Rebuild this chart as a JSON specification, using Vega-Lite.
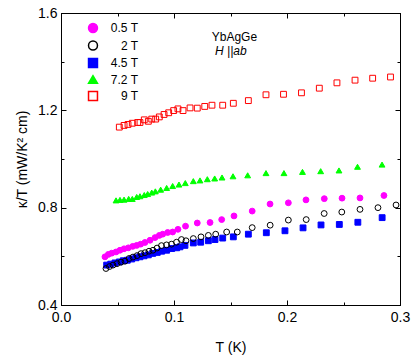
{
  "$schema": "https://vega.github.io/schema/vega-lite/v6.json",
  "width": 339,
  "height": 292,
  "autosize": "none",
  "padding": {"left": 61, "top": 13, "right": 15, "bottom": 50},
  "config": {
    "font": "Liberation Sans",
    "view": {"stroke": "black", "strokeWidth": 1},
    "axis": {
      "domainColor": "black", "tickColor": "black", "labelColor": "black", "titleColor": "black",
      "grid": false, "labelFontSize": 14, "titleFontSize": 14, "titleFontWeight": "normal",
      "labelFont": "Liberation Sans", "titleFont": "Liberation Sans"
    }
  },
  "datasets": {
    "pts": [
      {"T":0.0389,"k":0.598,"B":"0.5 T"},{"T":0.0419,"k":0.608,"B":"0.5 T"},{"T":0.0449,"k":0.613,"B":"0.5 T"},{"T":0.0487,"k":0.618,"B":"0.5 T"},{"T":0.0522,"k":0.625,"B":"0.5 T"},{"T":0.0558,"k":0.631,"B":"0.5 T"},{"T":0.0596,"k":0.635,"B":"0.5 T"},{"T":0.0635,"k":0.641,"B":"0.5 T"},{"T":0.0670,"k":0.645,"B":"0.5 T"},{"T":0.0705,"k":0.650,"B":"0.5 T"},{"T":0.0743,"k":0.657,"B":"0.5 T"},{"T":0.0788,"k":0.666,"B":"0.5 T"},{"T":0.0832,"k":0.677,"B":"0.5 T"},{"T":0.0870,"k":0.686,"B":"0.5 T"},{"T":0.0900,"k":0.691,"B":"0.5 T"},{"T":0.0944,"k":0.698,"B":"0.5 T"},{"T":0.0988,"k":0.700,"B":"0.5 T"},{"T":0.1035,"k":0.711,"B":"0.5 T"},{"T":0.1102,"k":0.724,"B":"0.5 T"},{"T":0.1206,"k":0.737,"B":"0.5 T"},{"T":0.1319,"k":0.739,"B":"0.5 T"},{"T":0.1422,"k":0.751,"B":"0.5 T"},{"T":0.1531,"k":0.766,"B":"0.5 T"},{"T":0.1692,"k":0.786,"B":"0.5 T"},{"T":0.1850,"k":0.815,"B":"0.5 T"},{"T":0.2012,"k":0.820,"B":"0.5 T"},{"T":0.2168,"k":0.832,"B":"0.5 T"},{"T":0.2330,"k":0.837,"B":"0.5 T"},{"T":0.2487,"k":0.839,"B":"0.5 T"},{"T":0.2646,"k":0.840,"B":"0.5 T"},{"T":0.2858,"k":0.850,"B":"0.5 T"},
      {"T":0.0404,"k":0.564,"B":"4.5 T"},{"T":0.0440,"k":0.568,"B":"4.5 T"},{"T":0.0478,"k":0.573,"B":"4.5 T"},{"T":0.0516,"k":0.577,"B":"4.5 T"},{"T":0.0551,"k":0.582,"B":"4.5 T"},{"T":0.0587,"k":0.584,"B":"4.5 T"},{"T":0.0626,"k":0.589,"B":"4.5 T"},{"T":0.0664,"k":0.594,"B":"4.5 T"},{"T":0.0699,"k":0.598,"B":"4.5 T"},{"T":0.0735,"k":0.602,"B":"4.5 T"},{"T":0.0773,"k":0.606,"B":"4.5 T"},{"T":0.0812,"k":0.612,"B":"4.5 T"},{"T":0.0852,"k":0.616,"B":"4.5 T"},{"T":0.0891,"k":0.621,"B":"4.5 T"},{"T":0.0935,"k":0.625,"B":"4.5 T"},{"T":0.0980,"k":0.632,"B":"4.5 T"},{"T":0.1024,"k":0.635,"B":"4.5 T"},{"T":0.1053,"k":0.639,"B":"4.5 T"},{"T":0.1097,"k":0.645,"B":"4.5 T"},{"T":0.1171,"k":0.655,"B":"4.5 T"},{"T":0.1236,"k":0.658,"B":"4.5 T"},{"T":0.1304,"k":0.664,"B":"4.5 T"},{"T":0.1363,"k":0.669,"B":"4.5 T"},{"T":0.1431,"k":0.675,"B":"4.5 T"},{"T":0.1525,"k":0.680,"B":"4.5 T"},{"T":0.1658,"k":0.691,"B":"4.5 T"},{"T":0.1817,"k":0.697,"B":"4.5 T"},{"T":0.1982,"k":0.705,"B":"4.5 T"},{"T":0.2142,"k":0.717,"B":"4.5 T"},{"T":0.2301,"k":0.729,"B":"4.5 T"},{"T":0.2463,"k":0.731,"B":"4.5 T"},{"T":0.2627,"k":0.740,"B":"4.5 T"},{"T":0.2842,"k":0.759,"B":"4.5 T"},
      {"T":0.0398,"k":0.550,"B":"2 T"},{"T":0.0429,"k":0.558,"B":"2 T"},{"T":0.0460,"k":0.564,"B":"2 T"},{"T":0.0496,"k":0.570,"B":"2 T"},{"T":0.0531,"k":0.576,"B":"2 T"},{"T":0.0566,"k":0.580,"B":"2 T"},{"T":0.0602,"k":0.591,"B":"2 T"},{"T":0.0637,"k":0.597,"B":"2 T"},{"T":0.0673,"k":0.603,"B":"2 T"},{"T":0.0708,"k":0.611,"B":"2 T"},{"T":0.0743,"k":0.615,"B":"2 T"},{"T":0.0779,"k":0.621,"B":"2 T"},{"T":0.0814,"k":0.625,"B":"2 T"},{"T":0.0850,"k":0.634,"B":"2 T"},{"T":0.0889,"k":0.644,"B":"2 T"},{"T":0.0934,"k":0.647,"B":"2 T"},{"T":0.0978,"k":0.650,"B":"2 T"},{"T":0.1022,"k":0.658,"B":"2 T"},{"T":0.1066,"k":0.669,"B":"2 T"},{"T":0.1106,"k":0.664,"B":"2 T"},{"T":0.1171,"k":0.673,"B":"2 T"},{"T":0.1239,"k":0.680,"B":"2 T"},{"T":0.1304,"k":0.686,"B":"2 T"},{"T":0.1369,"k":0.691,"B":"2 T"},{"T":0.1466,"k":0.700,"B":"2 T"},{"T":0.1560,"k":0.700,"B":"2 T"},{"T":0.1692,"k":0.718,"B":"2 T"},{"T":0.1851,"k":0.728,"B":"2 T"},{"T":0.2012,"k":0.749,"B":"2 T"},{"T":0.2170,"k":0.751,"B":"2 T"},{"T":0.2329,"k":0.776,"B":"2 T"},{"T":0.2485,"k":0.782,"B":"2 T"},{"T":0.2646,"k":0.793,"B":"2 T"},{"T":0.2805,"k":0.800,"B":"2 T"},{"T":0.2965,"k":0.811,"B":"2 T"},
      {"T":0.0487,"k":0.830,"B":"7.2 T"},{"T":0.0522,"k":0.832,"B":"7.2 T"},{"T":0.0558,"k":0.833,"B":"7.2 T"},{"T":0.0599,"k":0.836,"B":"7.2 T"},{"T":0.0631,"k":0.836,"B":"7.2 T"},{"T":0.0670,"k":0.844,"B":"7.2 T"},{"T":0.0699,"k":0.847,"B":"7.2 T"},{"T":0.0737,"k":0.852,"B":"7.2 T"},{"T":0.0767,"k":0.856,"B":"7.2 T"},{"T":0.0803,"k":0.862,"B":"7.2 T"},{"T":0.0835,"k":0.867,"B":"7.2 T"},{"T":0.0882,"k":0.874,"B":"7.2 T"},{"T":0.0935,"k":0.881,"B":"7.2 T"},{"T":0.0988,"k":0.889,"B":"7.2 T"},{"T":0.1044,"k":0.895,"B":"7.2 T"},{"T":0.1100,"k":0.901,"B":"7.2 T"},{"T":0.1171,"k":0.909,"B":"7.2 T"},{"T":0.1230,"k":0.912,"B":"7.2 T"},{"T":0.1295,"k":0.917,"B":"7.2 T"},{"T":0.1360,"k":0.920,"B":"7.2 T"},{"T":0.1425,"k":0.924,"B":"7.2 T"},{"T":0.1522,"k":0.929,"B":"7.2 T"},{"T":0.1652,"k":0.933,"B":"7.2 T"},{"T":0.1814,"k":0.942,"B":"7.2 T"},{"T":0.1973,"k":0.942,"B":"7.2 T"},{"T":0.2137,"k":0.947,"B":"7.2 T"},{"T":0.2298,"k":0.950,"B":"7.2 T"},{"T":0.2460,"k":0.953,"B":"7.2 T"},{"T":0.2624,"k":0.968,"B":"7.2 T"},{"T":0.2841,"k":0.977,"B":"7.2 T"},
      {"T":0.0516,"k":1.131,"B":"9 T"},{"T":0.0558,"k":1.138,"B":"9 T"},{"T":0.0593,"k":1.142,"B":"9 T"},{"T":0.0631,"k":1.147,"B":"9 T"},{"T":0.0679,"k":1.150,"B":"9 T"},{"T":0.0699,"k":1.150,"B":"9 T"},{"T":0.0737,"k":1.161,"B":"9 T"},{"T":0.0773,"k":1.155,"B":"9 T"},{"T":0.0803,"k":1.164,"B":"9 T"},{"T":0.0838,"k":1.164,"B":"9 T"},{"T":0.0870,"k":1.173,"B":"9 T"},{"T":0.0912,"k":1.183,"B":"9 T"},{"T":0.0953,"k":1.190,"B":"9 T"},{"T":0.0997,"k":1.199,"B":"9 T"},{"T":0.1035,"k":1.206,"B":"9 T"},{"T":0.1080,"k":1.199,"B":"9 T"},{"T":0.1142,"k":1.210,"B":"9 T"},{"T":0.1206,"k":1.209,"B":"9 T"},{"T":0.1272,"k":1.216,"B":"9 T"},{"T":0.1336,"k":1.221,"B":"9 T"},{"T":0.1431,"k":1.221,"B":"9 T"},{"T":0.1525,"k":1.229,"B":"9 T"},{"T":0.1658,"k":1.240,"B":"9 T"},{"T":0.1814,"k":1.264,"B":"9 T"},{"T":0.1969,"k":1.266,"B":"9 T"},{"T":0.2128,"k":1.272,"B":"9 T"},{"T":0.2286,"k":1.291,"B":"9 T"},{"T":0.2442,"k":1.313,"B":"9 T"},{"T":0.2602,"k":1.324,"B":"9 T"},{"T":0.2758,"k":1.332,"B":"9 T"},{"T":0.2916,"k":1.337,"B":"9 T"}
    ]
  },
  "layer": [
    {
      "data": {"name": "pts"},
      "mark": {"type": "point", "opacity": 1, "size": 34, "strokeWidth": 1},
      "encoding": {
        "x": {"field": "T", "type": "quantitative", "scale": {"domain": [0, 0.3], "nice": false, "zero": false},
          "axis": {"orient": "bottom", "title": "T (K)", "values": [0,0.05,0.1,0.15,0.2,0.25,0.3],
            "labelExpr": "abs(datum.value*10-round(datum.value*10))<0.001 ? format(datum.value,'.1f') : ''",
            "tickSize": {"condition": {"test": "abs(datum.value*10-round(datum.value*10))<0.001", "value": -5}, "value": -3},
            "labelPadding": 10, "titlePadding": 16, "labelFlush": false}},
        "y": {"field": "k", "type": "quantitative", "scale": {"domain": [0.4, 1.6], "nice": false, "zero": false},
          "axis": {"orient": "left", "title": "κ/T (mW/K² cm)", "values": [0.4,0.6,0.8,1.0,1.2,1.4,1.6],
            "labelExpr": "abs(datum.value/0.4-round(datum.value/0.4))<0.001 ? format(datum.value,'.1f') : ''",
            "tickSize": {"condition": {"test": "abs(datum.value/0.4-round(datum.value/0.4))<0.001", "value": -5}, "value": -3},
            "labelPadding": 9, "titlePadding": 8, "labelFlush": false}},
        "color": {"field": "B", "type": "nominal",
          "scale": {"domain": ["0.5 T","2 T","4.5 T","7.2 T","9 T"], "range": ["#ff00ff","#000000","#0000ff","#00ff00","#ff0000"]},
          "legend": {"orient": "none", "legendX": 26, "legendY": 9, "title": null, "symbolSize": 80, "labelFontSize": 12,
            "labelAlign": "right", "labelOffset": 39, "rowPadding": 1.5, "padding": 0, "symbolStrokeWidth": 1.5, "labelColor": "black"}},
        "fill": {"field": "B", "type": "nominal",
          "scale": {"domain": ["0.5 T","2 T","4.5 T","7.2 T","9 T"], "range": ["#ff00ff","transparent","#0000ff","#00ff00","transparent"]},
          "legend": {"orient": "none", "legendX": 26, "legendY": 9, "title": null, "symbolSize": 80, "labelFontSize": 12,
            "labelAlign": "right", "labelOffset": 39, "rowPadding": 1.5, "padding": 0, "symbolStrokeWidth": 1.5, "labelColor": "black"}},
        "shape": {"field": "B", "type": "nominal",
          "scale": {"domain": ["0.5 T","2 T","4.5 T","7.2 T","9 T"], "range": ["circle","circle","square","triangle-up","square"]},
          "legend": {"orient": "none", "legendX": 26, "legendY": 9, "title": null, "symbolSize": 80, "labelFontSize": 12,
            "labelAlign": "right", "labelOffset": 39, "rowPadding": 1.5, "padding": 0, "symbolStrokeWidth": 1.5, "labelColor": "black"}}
      }
    },
    {
      "data": {"name": "pts"},
      "mark": {"type": "point", "opacity": 0},
      "encoding": {
        "x": {"field": "T", "type": "quantitative",
          "axis": {"orient": "top", "title": null, "labels": false, "values": [0,0.05,0.1,0.15,0.2,0.25,0.3],
            "tickSize": {"condition": {"test": "abs(datum.value*10-round(datum.value*10))<0.001", "value": -5}, "value": -3}}},
        "y": {"field": "k", "type": "quantitative",
          "axis": {"orient": "right", "title": null, "labels": false, "values": [0.4,0.6,0.8,1.0,1.2,1.4,1.6],
            "tickSize": {"condition": {"test": "abs(datum.value/0.4-round(datum.value/0.4))<0.001", "value": -5}, "value": -3}}}
      }
    },
    {
      "data": {"values": [{"T": 0.1334, "k": 1.502, "label": "YbAgGe"}]},
      "mark": {"type": "text", "align": "left", "baseline": "middle", "fontSize": 12, "font": "Liberation Sans", "color": "black"},
      "encoding": {
        "x": {"field": "T", "type": "quantitative", "axis": null},
        "y": {"field": "k", "type": "quantitative", "axis": null},
        "text": {"field": "label"}
      }
    },
    {
      "data": {"values": [{"T": 0.1363, "k": 1.445, "label": "H ||ab"}]},
      "mark": {"type": "text", "align": "left", "baseline": "middle", "fontSize": 12, "font": "Liberation Sans", "fontStyle": "italic", "color": "black"},
      "encoding": {
        "x": {"field": "T", "type": "quantitative", "axis": null},
        "y": {"field": "k", "type": "quantitative", "axis": null},
        "text": {"field": "label"}
      }
    }
  ],
  "resolve": {"axis": {"x": "independent", "y": "independent"}}
}
